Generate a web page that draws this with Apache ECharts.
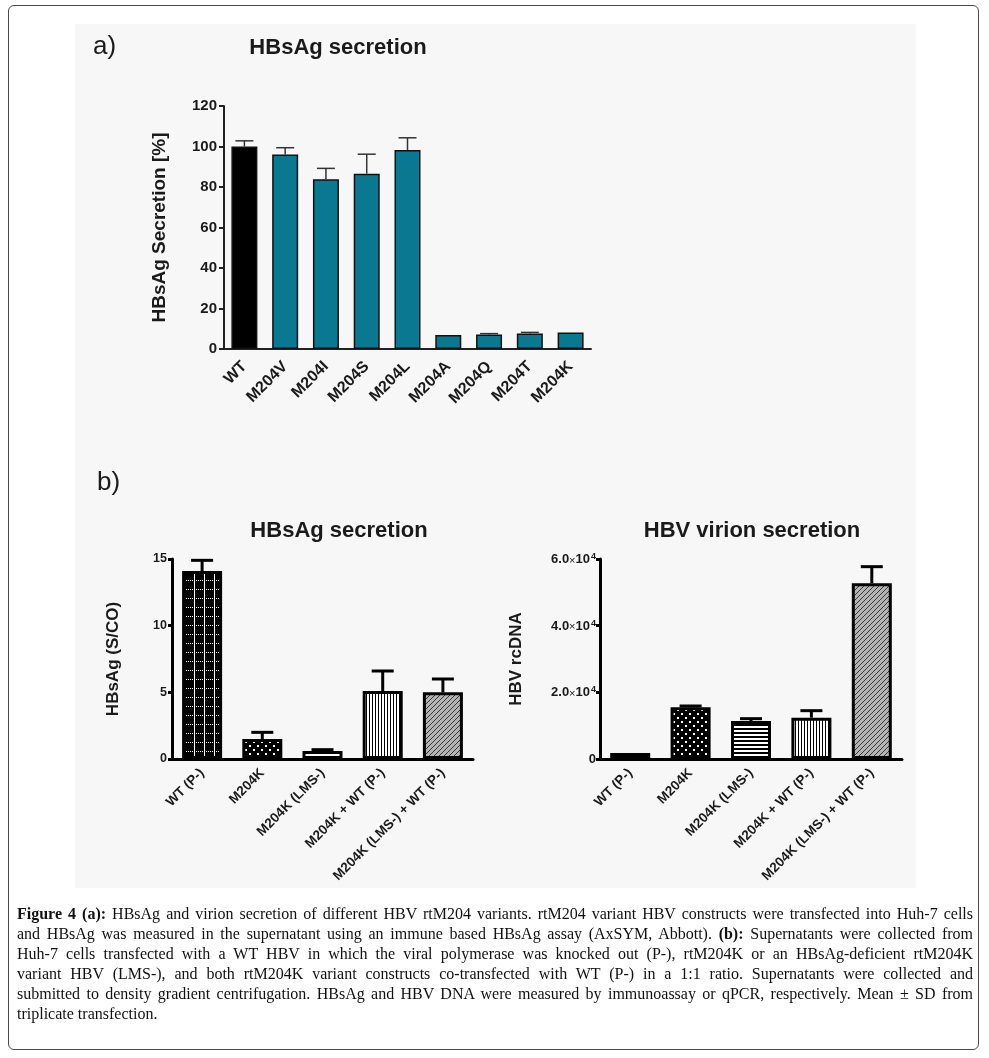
<!DOCTYPE html>
<html>
<head>
<meta charset="utf-8">
<script src="https://cdn.jsdelivr.net/npm/echarts@6/dist/echarts.min.js"></script>
<style>
  html, body { margin: 0; padding: 0; background: #fff; }
  #wrap { position: relative; width: 989px; height: 1058px; overflow: hidden; }
  #frame { position: absolute; left: 8px; top: 5px; width: 971px; height: 1045px; border: 1.5px solid #4a4a4a; border-radius: 6px; box-sizing: border-box; }
  #chart { position: absolute; left: 0; top: 0; width: 989px; height: 1058px; }
  #caption { position: absolute; left: 17px; top: 904px; width: 956px; font-family: "Liberation Serif", "DejaVu Serif", serif; font-size: 16px; line-height: 20px; color: #111; }
  #caption .ln { white-space: nowrap; height: 20px; }
  #caption .ln span.t { display: inline-block; transform-origin: 0 50%; }
</style>
</head>
<body>
<div id="wrap">
  <div id="chart"></div>
  <div id="frame"></div>
  <div id="caption">
    <div class="ln"><span class="t"><b>Figure 4 (a):</b> HBsAg and virion secretion of different HBV rtM204 variants. rtM204 variant HBV constructs were transfected into Huh-7 cells</span></div>
    <div class="ln"><span class="t">and HBsAg was measured in the supernatant using an immune based HBsAg assay (AxSYM, Abbott). <b>(b):</b> Supernatants were collected from</span></div>
    <div class="ln"><span class="t">Huh-7 cells transfected with a WT HBV in which the viral polymerase was knocked out (P-), rtM204K or an HBsAg-deficient rtM204K</span></div>
    <div class="ln"><span class="t">variant HBV (LMS-), and both rtM204K variant constructs co-transfected with WT (P-) in a 1:1 ratio. Supernatants were collected and</span></div>
    <div class="ln"><span class="t">submitted to density gradient centrifugation. HBsAg and HBV DNA were measured by immunoassay or qPCR, respectively. Mean ± SD from</span></div>
    <div class="ln last"><span class="t">triplicate transfection.</span></div>
  </div>
</div>
<script>
// ---------------- DATA ----------------
const catA = ['WT', 'M204V', 'M204I', 'M204S', 'M204L', 'M204A', 'M204Q', 'M204T', 'M204K'];
const meanA = [100, 96, 83.8, 86.6, 98.3, 6.9, 7.1, 7.7, 8.2];
const sdA = [2.8, 3.4, 5.4, 9.6, 6.0, 0, 0.5, 0.5, 0];

const catB = ['WT (P-)', 'M204K', 'M204K (LMS-)', 'M204K + WT (P-)', 'M204K (LMS-) + WT (P-)'];
const hbsagB = [14.1, 1.5, 0.6, 5.1, 5.0];
const hbsagSdB = [0.8, 0.5, 0.1, 1.5, 1.0];
const dnaB = [1800, 15500, 11400, 12400, 52700];
const dnaSdB = [0, 400, 700, 2100, 5000];

const dnaTickMantissa = { 20000: '2.0', 40000: '4.0', 60000: '6.0' };

// ---------------- PATTERNS ----------------
function tile(w, h, draw) {
  const c = document.createElement('canvas');
  c.width = w; c.height = h;
  const g = c.getContext('2d');
  draw(g, w, h);
  return { image: c, repeat: 'repeat' };
}
const patGrid = tile(10, 9, (g) => {
  g.fillStyle = '#000'; g.fillRect(0, 0, 10, 9);
  g.fillStyle = '#fff';
  g.fillRect(4, 0, 1, 9);
  [0, 2, 6, 8].forEach(x => g.fillRect(x, 4, 1, 1));
});
const patDots = tile(8, 8, (g) => {
  g.fillStyle = '#000'; g.fillRect(0, 0, 8, 8);
  g.fillStyle = '#fff';
  g.fillRect(1, 1, 2, 2); g.fillRect(5, 5, 2, 2);
});
const patH = tile(4, 4, (g) => {
  g.fillStyle = '#fff'; g.fillRect(0, 0, 4, 4);
  g.fillStyle = '#000'; g.fillRect(0, 0, 4, 2);
});
const patV = tile(3, 3, (g) => {
  g.fillStyle = '#fff'; g.fillRect(0, 0, 3, 3);
  g.fillStyle = '#000'; g.fillRect(0, 0, 1, 3);
});
const patHatch = tile(5, 5, (g) => {
  g.fillStyle = '#b4b4b4'; g.fillRect(0, 0, 5, 5);
  g.fillStyle = '#383838';
  for (let i = 0; i < 5; i++) g.fillRect(4 - i, i, 1, 1);
});
const patternsB = [patGrid, patDots, patH, patV, patHatch];

// ---------------- HELPERS ----------------
const FONT = '"Liberation Sans", Arial, sans-serif';
const INK = '#1a1a1a';

function errRender(capW, lw, color) {
  return function (params, api) {
    const x = api.value(0), m = api.value(1), t = api.value(2);
    if (t <= m) return null;
    const p0 = api.coord([x, m]);
    const p1 = api.coord([x, t]);
    return {
      type: 'group',
      children: [
        { type: 'line', shape: { x1: p0[0], y1: p0[1], x2: p1[0], y2: p1[1] }, style: { stroke: color, lineWidth: lw } },
        { type: 'line', shape: { x1: p1[0] - capW / 2, y1: p1[1], x2: p1[0] + capW / 2, y2: p1[1] }, style: { stroke: color, lineWidth: lw } }
      ]
    };
  };
}
function errData(means, sds) {
  return means.map((m, i) => [i, m, m + sds[i]]);
}

const chart = echarts.init(document.getElementById('chart'), null, { renderer: 'canvas' });

const option = {
  animation: false,
  backgroundColor: 'transparent',
  graphic: [
    { type: 'rect', shape: { x: 75, y: 24, width: 841, height: 864 }, style: { fill: '#f7f7f7' }, z: -10 },
    { type: 'text', x: 93, y: 47, style: { text: 'a)', font: '26px ' + FONT, fill: INK, textVerticalAlign: 'middle' } },
    { type: 'text', x: 97, y: 483, style: { text: 'b)', font: '26px ' + FONT, fill: INK, textVerticalAlign: 'middle' } },
    { type: 'text', x: 338, y: 48, style: { text: 'HBsAg secretion', font: 'bold 22px ' + FONT, fill: INK, textAlign: 'center', textVerticalAlign: 'middle' } },
    { type: 'text', x: 339, y: 531, style: { text: 'HBsAg secretion', font: 'bold 22px ' + FONT, fill: INK, textAlign: 'center', textVerticalAlign: 'middle' } },
    { type: 'text', x: 752, y: 531, style: { text: 'HBV virion secretion', font: 'bold 22px ' + FONT, fill: INK, textAlign: 'center', textVerticalAlign: 'middle' } }
  ],
  grid: [
    { left: 224, top: 106, width: 367, height: 243 },
    { left: 172, top: 559, width: 301, height: 200 },
    { left: 600, top: 559, width: 302, height: 200 }
  ],
  xAxis: [
    {
      gridIndex: 0, type: 'category', data: catA,
      axisLine: { lineStyle: { color: '#222', width: 2 } },
      axisTick: { alignWithLabel: true, length: 5, lineStyle: { color: '#222', width: 2 } },
      axisLabel: { rotate: 45, margin: 15, fontFamily: FONT, fontWeight: 'bold', fontSize: 16, color: INK, interval: 0 }
    },
    {
      gridIndex: 1, type: 'category', data: catB,
      axisLine: { lineStyle: { color: '#000', width: 3 } },
      axisTick: { alignWithLabel: true, length: 5, lineStyle: { color: '#000', width: 3 } },
      axisLabel: { rotate: 45, margin: 12, fontFamily: FONT, fontWeight: 'bold', fontSize: 13.5, color: INK, interval: 0 }
    },
    {
      gridIndex: 2, type: 'category', data: catB,
      axisLine: { lineStyle: { color: '#000', width: 3 } },
      axisTick: { alignWithLabel: true, length: 5, lineStyle: { color: '#000', width: 3 } },
      axisLabel: { rotate: 45, margin: 12, fontFamily: FONT, fontWeight: 'bold', fontSize: 13.5, color: INK, interval: 0 }
    }
  ],
  yAxis: [
    {
      gridIndex: 0, type: 'value', min: 0, max: 120, interval: 20,
      name: 'HBsAg Secretion [%]', nameLocation: 'middle', nameGap: 55,
      nameTextStyle: { fontFamily: FONT, fontWeight: 'bold', fontSize: 19, color: INK },
      splitLine: { show: false },
      axisLine: { show: true, lineStyle: { color: '#222', width: 2 } },
      axisTick: { show: true, length: 5, lineStyle: { color: '#222', width: 2 } },
      axisLabel: { margin: 7, fontFamily: FONT, fontWeight: 'bold', fontSize: 15, color: INK }
    },
    {
      gridIndex: 1, type: 'value', min: 0, max: 15, interval: 5,
      name: 'HBsAg (S/CO)', nameLocation: 'middle', nameGap: 50,
      nameTextStyle: { fontFamily: FONT, fontWeight: 'bold', fontSize: 17, color: INK },
      splitLine: { show: false },
      axisLine: { show: true, lineStyle: { color: '#000', width: 3 } },
      axisTick: { show: true, length: 4, lineStyle: { color: '#000', width: 3 } },
      axisLabel: { margin: 5, fontFamily: FONT, fontWeight: 'bold', fontSize: 12.5, color: INK }
    },
    {
      gridIndex: 2, type: 'value', min: 0, max: 60000, interval: 20000,
      name: 'HBV rcDNA', nameLocation: 'middle', nameGap: 75,
      nameTextStyle: { fontFamily: FONT, fontWeight: 'bold', fontSize: 17, color: INK },
      splitLine: { show: false },
      axisLine: { show: true, lineStyle: { color: '#000', width: 3 } },
      axisTick: { show: true, length: 4, lineStyle: { color: '#000', width: 3 } },
      axisLabel: {
        margin: 4, color: INK,
        formatter: function (v) {
          if (v === 0) return '{n|0}';
          return '{n|' + dnaTickMantissa[v] + '}{x|×}{n|10}{s|4}';
        },
        rich: {
          n: { fontFamily: FONT, fontWeight: 'bold', fontSize: 13, color: INK, lineHeight: 14, verticalAlign: 'bottom' },
          x: { fontFamily: FONT, fontSize: 11, color: INK, lineHeight: 14, verticalAlign: 'bottom' },
          s: { fontFamily: FONT, fontWeight: 'bold', fontSize: 9, color: INK, lineHeight: 9, verticalAlign: 'top', padding: [0, 0, 0, 1] }
        }
      }
    }
  ],
  series: [
    {
      type: 'bar', xAxisIndex: 0, yAxisIndex: 0, barWidth: 26,
      data: meanA.map((v, i) => ({ value: v, itemStyle: { color: i === 0 ? '#000000' : '#0b7891' } })),
      itemStyle: { borderColor: '#111', borderWidth: 1.5 }
    },
    {
      type: 'custom', xAxisIndex: 0, yAxisIndex: 0, z: 5,
      renderItem: errRender(18, 1.5, '#333'),
      encode: { x: 0, y: [1, 2] },
      data: errData(meanA, sdA)
    },
    {
      type: 'bar', xAxisIndex: 1, yAxisIndex: 1, barWidth: 40,
      data: hbsagB.map((v, i) => ({ value: v, itemStyle: { color: patternsB[i] } })),
      itemStyle: { borderColor: '#000', borderWidth: 3 }
    },
    {
      type: 'custom', xAxisIndex: 1, yAxisIndex: 1, z: 5,
      renderItem: errRender(22, 3, '#000'),
      encode: { x: 0, y: [1, 2] },
      data: errData(hbsagB, hbsagSdB)
    },
    {
      type: 'bar', xAxisIndex: 2, yAxisIndex: 2, barWidth: 40,
      data: dnaB.map((v, i) => ({ value: v, itemStyle: { color: patternsB[i] } })),
      itemStyle: { borderColor: '#000', borderWidth: 3 }
    },
    {
      type: 'custom', xAxisIndex: 2, yAxisIndex: 2, z: 5,
      renderItem: errRender(22, 3, '#000'),
      encode: { x: 0, y: [1, 2] },
      data: errData(dnaB, dnaSdB)
    }
  ]
};
chart.setOption(option);

// ---------------- CAPTION JUSTIFICATION ----------------
(function () {
  const W = 956;
  document.querySelectorAll('#caption .ln').forEach(ln => {
    const t = ln.querySelector('span.t');
    if (ln.classList.contains('last')) return;
    const w = t.getBoundingClientRect().width;
    if (w > W) {
      t.style.transform = 'scaleX(' + (W / w) + ')';
    } else {
      const spaces = (t.textContent.match(/ /g) || []).length;
      if (spaces) t.style.wordSpacing = ((W - w) / spaces) + 'px';
    }
  });
})();
</script>
</body>
</html>
